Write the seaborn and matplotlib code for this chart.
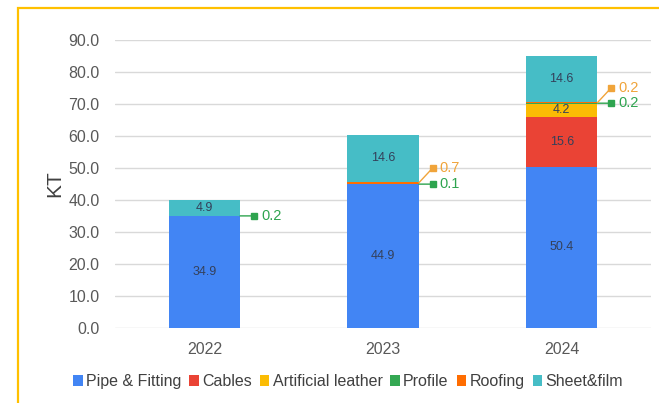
import matplotlib
matplotlib.use("Agg")
import matplotlib.pyplot as plt
import matplotlib.transforms as mtransforms
from matplotlib.patches import Rectangle
import seaborn as sns
import numpy as np
import pandas as pd

years = ["2022", "2023", "2024"]
series = ["Pipe & Fitting", "Cables", "Artificial leather", "Profile", "Roofing", "Sheet&film"]
pipe = [34.9, 44.9, 50.4]
cables = [0.0, 0.0, 15.6]
leather = [0.0, 0.0, 4.2]
profile = [0.2, 0.1, 0.2]
roofing = [0.0, 0.7, 0.2]
sheet = [4.9, 14.6, 14.6]
colors = ["#4285F4", "#EA4335", "#FBBC04", "#34A853", "#FF6D01", "#46BDC6"]
yticks = [0, 10, 20, 30, 40, 50, 60, 70, 80, 90]

sns.set_style("white")
plt.rcParams["font.family"] = ["Liberation Sans", "DejaVu Sans"]

df = pd.DataFrame(dict(zip(series, [pipe, cables, leather, profile, roofing, sheet])), index=years)

fig = plt.figure(figsize=(6.59, 4.03), dpi=100)
ax = fig.add_axes([0.1745, 0.187, 0.8135, 0.713])

bottom = np.zeros(len(years))
for name, col in zip(series, colors):
    sns.barplot(x=years, y=df[name].values, bottom=bottom, color=col, width=0.4,
                errorbar=None, label=name, ax=ax, linewidth=0, saturation=1)
    # values inside the bars
    for i, v in enumerate(df[name].values):
        if v >= 1:
            ax.text(i, bottom[i] + v / 2, f"{v:.1f}", ha="center", va="center",
                    fontsize=9, color="#34405a")
    bottom = bottom + df[name].values

# callouts for the thin segments
call = {"Profile": ("#2EA44F", 0), "Roofing": ("#F0A43A", 15)}
cum = df.cumsum(axis=1)
for name in ["Profile", "Roofing"]:
    c, dy = call[name]
    for i, y in enumerate(years):
        v = df.loc[y, name]
        if v <= 0:
            continue
        top = cum.loc[y, name]
        ymid = top - v / 2
        x0 = i + 0.2
        ax.annotate("", xy=(x0, ymid), xytext=(14, dy), textcoords="offset pixels",
                    arrowprops=dict(arrowstyle="-", color=c, lw=1, shrinkA=0, shrinkB=0))
        tm = mtransforms.offset_copy(ax.transData, fig=fig, x=14, y=dy, units="dots")
        ax.plot([x0], [ymid], marker="s", ms=4, color=c, transform=tm, clip_on=False)
        tt = mtransforms.offset_copy(ax.transData, fig=fig, x=21, y=dy, units="dots")
        ax.text(x0, ymid, f"{v:.1f}", transform=tt, ha="left", va="center",
                fontsize=10.5, color=c)

ax.set_ylim(0, 90)
ax.set_xlim(-0.5, 2.5)
ax.set_yticks(yticks)
ax.set_yticklabels([f"{t:.1f}" for t in yticks])
ax.yaxis.grid(True, color="#d9d9d9", lw=1)
ax.set_axisbelow(True)
sns.despine(ax=ax, left=True, bottom=True)
ax.tick_params(axis="y", length=0, pad=11, labelsize=11.5, labelcolor="#595959")
ax.tick_params(axis="x", length=0, pad=10, labelsize=11.5, labelcolor="#595959")
ax.set_ylabel("KT", fontsize=15, color="#404040", labelpad=3)
ax.set_xlabel("")

handles, labels = ax.get_legend_handles_labels()
ax.legend(handles, labels, ncol=6, loc="center", bbox_to_anchor=(0.528, 0.053),
          bbox_transform=fig.transFigure, frameon=False, fontsize=11.5,
          handlelength=0.6, handleheight=0.6, handletextpad=0.2, columnspacing=0.5,
          labelcolor="#404040")

# yellow frame
fig.patches.append(Rectangle((17.5 / 659, -0.1), 1.2, 1 - 7.7 / 403 + 0.1,
                             transform=fig.transFigure, fill=False,
                             edgecolor="#FFC000", lw=1.6))

fig.savefig("out.png", dpi=100)
